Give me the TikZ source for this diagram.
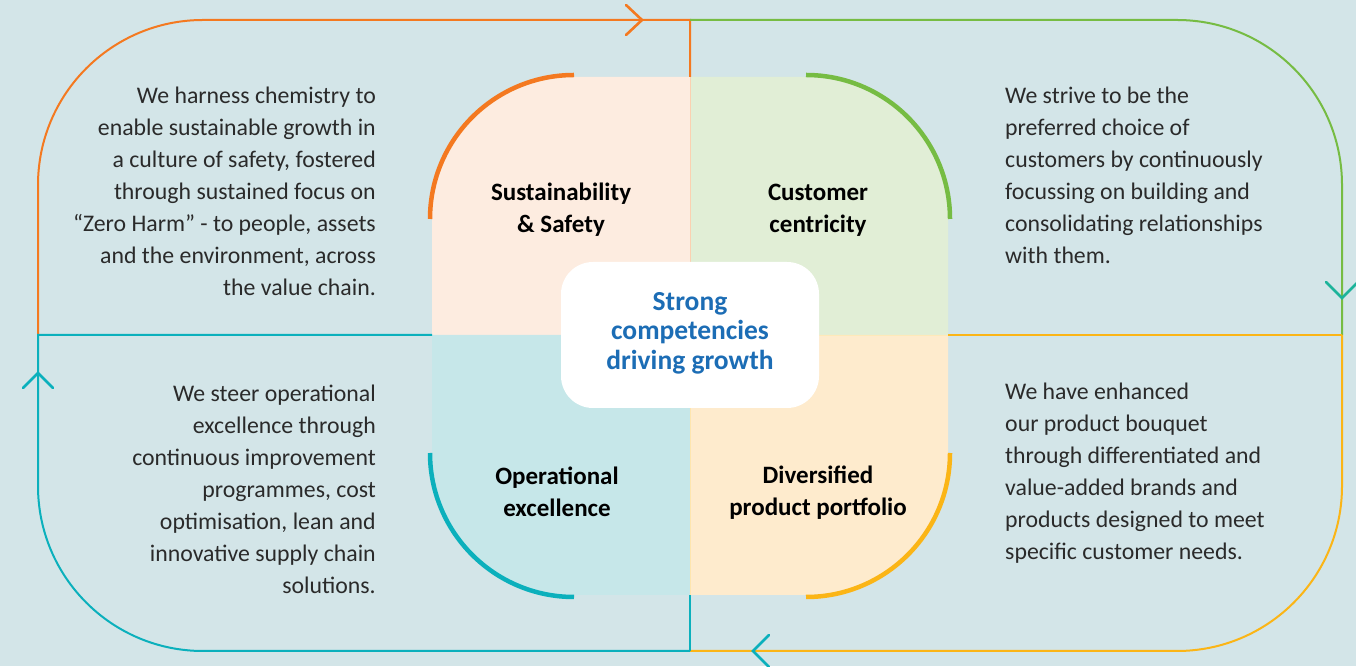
\documentclass[tikz,border=0pt]{standalone}
\usepackage{fontspec}
\setmainfont{Carlito}
\definecolor{bg}{HTML}{D3E5E8}
\definecolor{corange}{HTML}{F47920}
\definecolor{cgreen}{HTML}{76BC43}
\definecolor{cyellow}{HTML}{FBB516}
\definecolor{cteal}{HTML}{0BB0BC}
\definecolor{ctealgreen}{HTML}{1CB39A}
\definecolor{ftl}{HTML}{FDECE0}
\definecolor{ftr}{HTML}{E1EED6}
\definecolor{fbl}{HTML}{C6E7E9}
\definecolor{fbr}{HTML}{FEEBCD}
\definecolor{cblue}{HTML}{1C6DB5}
\definecolor{ctext}{HTML}{2A2A2A}
\tikzset{
  loopline/.style={line width=2pt},
  chev/.style={line width=2.6pt, line cap=round, line join=miter},
  quadarc/.style={line width=4.5pt},
  body/.style={inner sep=0pt, text=ctext, font=\fontsize{23.8}{32}\selectfont},
  headtxt/.style={inner sep=0pt, text=black, align=center, font=\bfseries\fontsize{25}{32}\selectfont},
}
\begin{document}
\begin{tikzpicture}[x=1pt,y=1pt]
\fill[bg] (0,0) rectangle (1356,666);
\useasboundingbox (0,0) rectangle (1356,666);
% quadrant fills
\fill[ftl] (690,331) -- (432,331) -- (432,447) arc[start angle=180,end angle=90,radius=142] -- (690,589) -- cycle;
\fill[ftr] (690,331) -- (948,331) -- (948,447) arc[start angle=0,end angle=90,radius=142] -- (690,589) -- cycle;
\fill[fbl] (690,331) -- (432,331) -- (432,213) arc[start angle=180,end angle=270,radius=142] -- (690,71) -- cycle;
\fill[fbr] (690,331) -- (948,331) -- (948,213) arc[start angle=0,end angle=-90,radius=142] -- (690,71) -- cycle;
% faint dividers
\draw[line width=0.8pt, corange!35] (690,331) -- (690,589);
\draw[line width=0.8pt, cyellow!35] (690,331) -- (690,71);
\draw[line width=0.8pt, cyellow!30] (690,331) -- (948,331);
% quadrant arcs
\draw[quadarc, corange] (430,447) arc[start angle=180,end angle=90,radius=144];
\draw[quadarc, cgreen] (950,447) arc[start angle=0,end angle=90,radius=144];
\draw[quadarc, cteal] (430,213) arc[start angle=180,end angle=270,radius=144];
\draw[quadarc, cyellow] (950,213) arc[start angle=0,end angle=-90,radius=144];
% outer loop
\coordinate (lmid) at (38,331);
\coordinate (tmid) at (690,646);
\coordinate (rmid) at (1342,331);
\coordinate (bmid) at (690,15);
\draw[loopline, corange] (lmid) -- (38,481) arc[start angle=180,end angle=90,radius=165] -- (tmid) -- (690,589);
\draw[loopline, cgreen] (tmid) -- (1177,646) arc[start angle=90,end angle=0,radius=165] -- (rmid);
\draw[loopline, cyellow] (rmid) -- (1342,180) arc[start angle=0,end angle=-90,radius=165] -- (bmid);
\draw[loopline, cyellow] (rmid) -- (948,331);
\draw[loopline, cteal] (bmid) -- (203,15) arc[start angle=270,end angle=180,radius=165] -- (lmid) -- (432,331);
\draw[loopline, cteal] (bmid) -- (690,71);
% chevrons
\draw[chev, corange] (626,661) -- (642,646) -- (626,631);
\draw[chev, ctealgreen] (1326,384) -- (1342,368) -- (1358,384);
\draw[chev, cteal] (23,278) -- (38,293) -- (53,278);
\draw[chev, cteal] (769,31) -- (753,15) -- (769,-1);
% centre box
\node[fill=white, rounded corners=32pt, minimum width=258pt, minimum height=146pt, inner sep=0pt] (core) at (690,331) {};
\node[inner sep=0pt, align=center, text=cblue, font=\bfseries\fontsize{27.5}{29.5}\selectfont] (coretxt) at (690,333) {Strong\\competencies\\driving growth};
% headings
\node[headtxt] (hss) at (561,456) {Sustainability\\\& Safety};
\node[headtxt] (hcc) at (818,456) {Customer\\centricity};
\node[headtxt] (hoe) at (557,174) {Operational\\excellence};
\node[headtxt] (hdp) at (818,173) {Diversified\\product portfolio};
% body texts
\node[body, anchor=east, align=right] (tss) at (376,475) {We harness chemistry to\\enable sustainable growth in\\a culture of safety, fostered\\through sustained focus on\\“Zero Harm” - to people, assets\\and the environment, across\\the value chain.};
\node[body, anchor=east, align=right] (toe) at (376,177) {We steer operational\\excellence through\\continuous improvement\\programmes, cost\\optimisation, lean and\\innovative supply chain\\solutions.};
\node[body, anchor=west, align=left] (tcc) at (1005,491) {We strive to be the\\preferred choice of\\customers by continuously\\focussing on building and\\consolidating relationships\\with them.};
\node[body, anchor=west, align=left] (tdp) at (1005,193) {We have enhanced\\our product bouquet\\through differentiated and\\value-added brands and\\products designed to meet\\specific customer needs.};
\end{tikzpicture}
\end{document}
